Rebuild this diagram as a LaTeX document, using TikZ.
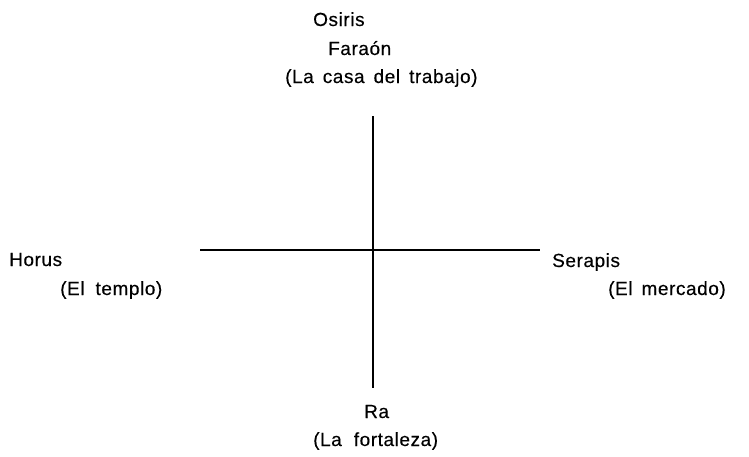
\documentclass[tikz,border=0pt]{standalone}
\usepackage{fontspec}
\setmainfont{Liberation Sans}[LetterSpace=3,FakeBold=0.3]
\begin{document}
\begin{tikzpicture}[x=1pt,y=-1pt,
  lbl/.style={anchor=base west,inner sep=0pt,font=\fontsize{19}{23}\selectfont},
  axis/.style={line width=1.1pt,black}]
\useasboundingbox (0,0) rectangle (749,456);
\coordinate (top) at (373,116);
\coordinate (bot) at (373,388);
\coordinate (lft) at (200,250);
\coordinate (rgt) at (540,250);
\draw[axis] (top) -- (bot);
\draw[axis] (lft) -- (rgt);
\node[lbl] (osiris) at (313,26) {Osiris};
\node[lbl] (faraon) at (328,55) {Faraón};
\node[lbl] (casa) at (285,83) {(La\hspace{9pt}casa\hspace{9pt}del\hspace{9pt}trabajo)};
\node[lbl] (horus) at (9,266) {Horus};
\node[lbl] (templo) at (60,295) {(El\hspace{11pt}templo)};
\node[lbl] (serapis) at (552,267) {Serapis};
\node[lbl] (mercado) at (608,295) {(El\hspace{9pt}mercado)};
\node[lbl] (ra) at (364,418) {Ra};
\node[lbl] (fortaleza) at (313,446) {(La\hspace{12pt}fortaleza)};
\end{tikzpicture}
\end{document}
